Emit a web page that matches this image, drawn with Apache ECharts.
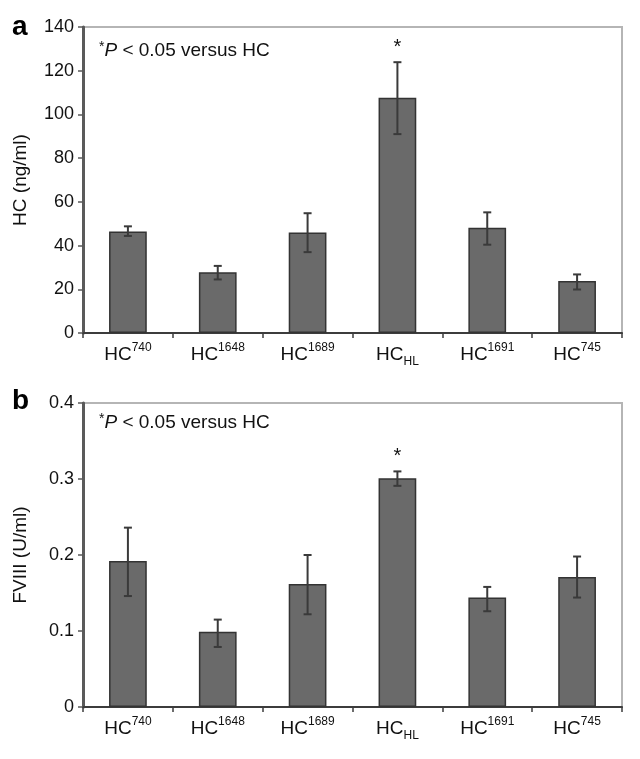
<!DOCTYPE html>
<html>
<head>
<meta charset="utf-8">
<script src="https://cdn.jsdelivr.net/npm/echarts@6/dist/echarts.min.js"></script>
<style>html,body{margin:0;padding:0;background:#fff;}#c{width:640px;height:759px;}</style>
</head>
<body>
<div id="c"></div>
<script>
// Categories: [base, superscript, subscript]
const categories = [
  ['HC', '740', ''],
  ['HC', '1648', ''],
  ['HC', '1689', ''],
  ['HC', '', 'HL'],
  ['HC', '1691', ''],
  ['HC', '745', '']
];
const significant = [0, 0, 0, 1, 0, 0];

// Panel a: HC (ng/ml)
const hcMean = [46.4, 27.8, 46.0, 107.6, 48.2, 23.8];
const hcLow  = [44.4, 24.5, 37.0, 91.0, 40.4, 19.9];
const hcHigh = [48.8, 30.7, 54.8, 123.9, 55.2, 26.8];

// Panel b: FVIII (U/ml)
const fMean = [0.192, 0.099, 0.162, 0.301, 0.144, 0.171];
const fLow  = [0.146, 0.079, 0.122, 0.291, 0.126, 0.144];
const fHigh = [0.236, 0.115, 0.200, 0.310, 0.158, 0.198];

const FONT = 'Liberation Sans, Arial, sans-serif';
const catKeys = categories.map((c, i) => 'c' + i);

function labelFmt(v) {
  const c = categories[catKeys.indexOf(v)];
  let s = '{b|' + c[0] + '}';
  if (c[1]) s += '{sup|' + c[1] + '}';
  if (c[2]) s += '{sub|' + c[2] + '}';
  return s;
}

const xAxisBase = (gi) => ({
  type: 'category', gridIndex: gi, data: catKeys,
  axisLine: {lineStyle: {color: '#3c3c3c', width: 2}},
  axisTick: {show: true, interval: 0, length: 5, lineStyle: {color: '#3c3c3c', width: 1.5}},
  axisLabel: {
    interval: 0, formatter: labelFmt, margin: 9,
    rich: {
      b: {fontSize: 19, fontFamily: FONT, color: '#111', lineHeight: 26, verticalAlign: 'middle'},
      sup: {fontSize: 12, fontFamily: FONT, color: '#111', lineHeight: 26, verticalAlign: 'top'},
      sub: {fontSize: 12, fontFamily: FONT, color: '#111', lineHeight: 26, verticalAlign: 'bottom', padding: [9, 0, 0, 0]}
    }
  }
});

const yAxisBase = (gi, min, max, interval, name) => ({
  type: 'value', gridIndex: gi, min: min, max: max, interval: interval,
  name: name, nameLocation: 'middle', nameGap: 53,
  nameTextStyle: {fontSize: 19, fontFamily: FONT, color: '#111'},
  splitLine: {show: false},
  axisLine: {show: true, lineStyle: {color: '#5a5a5a', width: 3}},
  axisTick: {show: true, length: 5, lineStyle: {color: '#5a5a5a', width: 1.5}},
  axisLabel: {fontSize: 18, fontFamily: FONT, color: '#111', margin: 9,
    formatter: (v) => String(Math.round(v * 10000) / 10000)}
});

function errData(lo, hi) {
  return lo.map((l, i) => [i, l, hi[i], significant[i]]);
}

function renderErr(params, api) {
  const x = api.value(0);
  const lo = api.coord([x, api.value(1)]);
  const hi = api.coord([x, api.value(2)]);
  const cw = 4;
  const st = {stroke: '#3a3a3a', lineWidth: 2};
  const ch = [
    {type: 'line', shape: {x1: lo[0], y1: lo[1], x2: hi[0], y2: hi[1]}, style: st},
    {type: 'line', shape: {x1: hi[0] - cw, y1: hi[1], x2: hi[0] + cw, y2: hi[1]}, style: st},
    {type: 'line', shape: {x1: lo[0] - cw, y1: lo[1], x2: lo[0] + cw, y2: lo[1]}, style: st}
  ];
  if (api.value(3)) {
    ch.push({type: 'text', style: {text: '*', x: hi[0], y: hi[1] - 5, align: 'center', verticalAlign: 'bottom',
      font: '20px ' + FONT, fill: '#111'}});
  }
  return {type: 'group', children: ch};
}

const barStyle = {color: '#6a6a6a', borderColor: '#333', borderWidth: 1.5};

const noteRich = {
  a: {fontSize: 14, fontFamily: FONT, fill: '#111', verticalAlign: 'top', lineHeight: 22},
  i: {fontSize: 19, fontFamily: FONT, fontStyle: 'italic', fill: '#111', lineHeight: 22},
  n: {fontSize: 19, fontFamily: FONT, fill: '#111', lineHeight: 22}
};

const chart = echarts.init(document.getElementById('c'));
chart.setOption({
  animation: false,
  grid: [
    {left: 83, top: 27, width: 539, height: 306, show: true, borderColor: '#b5b5b5', borderWidth: 2},
    {left: 83, top: 403, width: 539, height: 304, show: true, borderColor: '#b5b5b5', borderWidth: 2}
  ],
  xAxis: [xAxisBase(0), xAxisBase(1)],
  yAxis: [yAxisBase(0, 0, 140, 20, 'HC (ng/ml)'), yAxisBase(1, 0, 0.4, 0.1, 'FVIII (U/ml)')],
  graphic: [
    {type: 'text', left: 12, top: 13, style: {text: 'a', font: 'bold 28px ' + FONT, fill: '#000'}},
    {type: 'text', left: 12, top: 387, style: {text: 'b', font: 'bold 28px ' + FONT, fill: '#000'}},
    {type: 'text', left: 99, top: 40, style: {text: '{a|*}{i|P}{n| < 0.05 versus HC}', rich: noteRich}},
    {type: 'text', left: 99, top: 412, style: {text: '{a|*}{i|P}{n| < 0.05 versus HC}', rich: noteRich}}
  ],
  series: [
    {type: 'bar', xAxisIndex: 0, yAxisIndex: 0, data: hcMean, barWidth: '42%', itemStyle: barStyle, z: 2},
    {type: 'custom', xAxisIndex: 0, yAxisIndex: 0, data: errData(hcLow, hcHigh), renderItem: renderErr, z: 5,
      encode: {x: 0, y: [1, 2]}},
    {type: 'bar', xAxisIndex: 1, yAxisIndex: 1, data: fMean, barWidth: '42%', itemStyle: barStyle, z: 2},
    {type: 'custom', xAxisIndex: 1, yAxisIndex: 1, data: errData(fLow, fHigh), renderItem: renderErr, z: 5,
      encode: {x: 0, y: [1, 2]}}
  ]
});
</script>
</body>
</html>
